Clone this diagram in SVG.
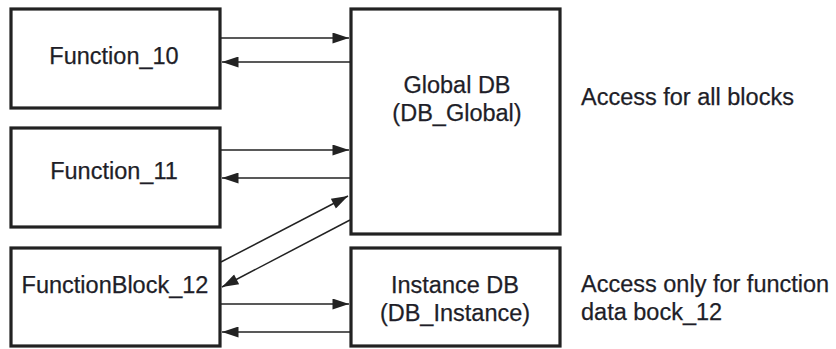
<svg xmlns="http://www.w3.org/2000/svg" width="836" height="349" viewBox="0 0 836 349">
<style>
.box{fill:#fff;stroke:#222;stroke-width:3.2}
.t{font-family:"Liberation Sans",Arial,sans-serif;font-size:23.5px;fill:#1e1e28;stroke:#1e1e28;stroke-width:0.25}
.c{text-anchor:middle}
.ln{stroke:#222;stroke-width:1.5;fill:none;marker-end:url(#ah)}
</style>
<defs>
<marker id="ah" viewBox="0 0 18 12" refX="18" refY="6" markerWidth="18" markerHeight="11" markerUnits="userSpaceOnUse" orient="auto">
<path d="M0,0 L18,6 L0,12 Z" fill="#222"/>
</marker>
</defs>
<rect width="836" height="349" fill="#fff"/>
<g id="f10"><rect class="box" x="11" y="9" width="209" height="99"/><text class="t c" x="114" y="64">Function_10</text></g>
<g id="f11"><rect class="box" x="11" y="128" width="209" height="99"/><text class="t c" x="114" y="179">Function_11</text></g>
<g id="fb12"><rect class="box" x="11" y="248" width="209" height="98"/><text class="t c" x="115" y="293">FunctionBlock_12</text></g>
<g id="gdb"><rect class="box" x="351" y="9" width="209" height="225"/><text class="t c" x="457" y="93">Global DB</text><text class="t c" x="457" y="121">(DB_Global)</text></g>
<g id="idb"><rect class="box" x="351" y="248" width="209" height="98"/><text class="t c" x="455" y="293">Instance DB</text><text class="t c" x="455" y="321">(DB_Instance)</text></g>
<g id="notes"><text class="t" x="581" y="105">Access for all blocks</text><text class="t" x="581" y="292">Access only for function</text><text class="t" x="581" y="320">data bock_12</text></g>
<g id="connectors">
<line class="ln" x1="221" y1="38" x2="349" y2="38"/>
<line class="ln" x1="350" y1="62" x2="222" y2="62"/>
<line class="ln" x1="221" y1="150" x2="349" y2="150"/>
<line class="ln" x1="350" y1="178" x2="222" y2="178"/>
<line class="ln" x1="221" y1="262" x2="348" y2="196"/>
<line class="ln" x1="350" y1="220" x2="222" y2="287"/>
<line class="ln" x1="221" y1="304" x2="349" y2="304"/>
<line class="ln" x1="350" y1="332" x2="222" y2="332"/>
</g>
</svg>
